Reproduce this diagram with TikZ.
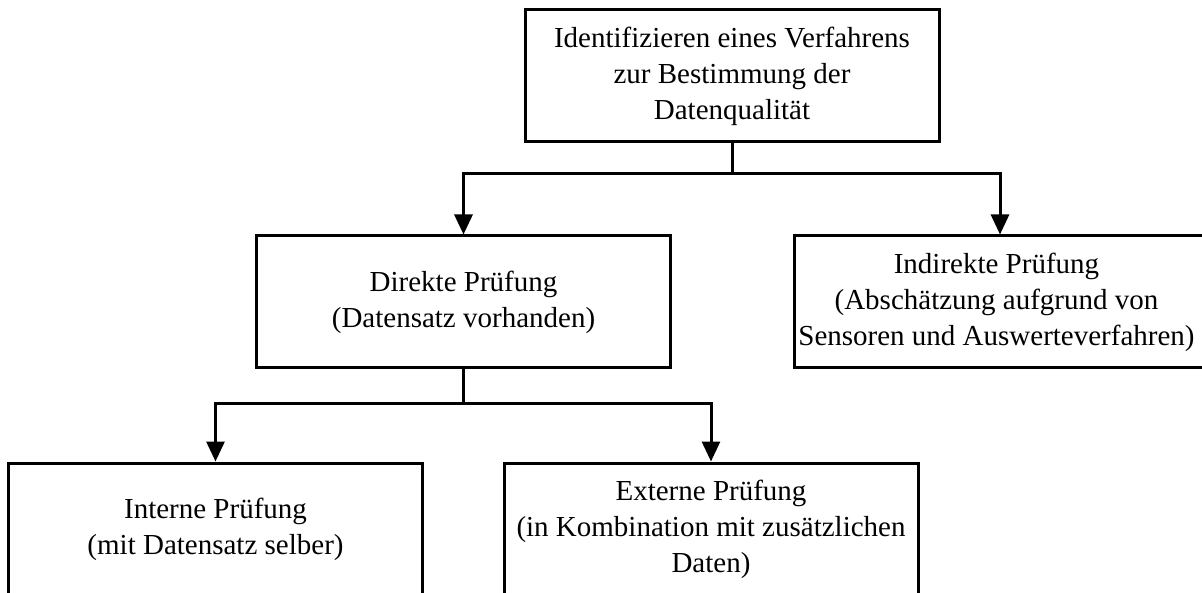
\documentclass[tikz,border=0pt]{standalone}
\usepackage{fontspec}
\setmainfont{Liberation Serif}
\usetikzlibrary{arrows.meta}
\begin{document}
\begin{tikzpicture}[x=1pt,y=-1pt,
  box/.style={draw,line width=3pt,minimum width=414pt,minimum height=132pt,
    align=center,inner sep=0pt,font=\fontsize{29}{36}\selectfont},
  link/.style={line width=3pt},
  flow/.style={line width=3pt,-{Triangle[width=18pt,length=20pt]}}]
\useasboundingbox (0,0) rectangle (1202,593);
\clip (0,0) rectangle (1202,593);
\fill[white] (0,0) rectangle (1202,593);

\node[box] (top) at (732,76) {Identifizieren eines Verfahrens\\zur Bestimmung der\\Datenqualität};
\node[box] (direct) at (463.5,302) {Direkte Prüfung\\(Datensatz vorhanden)};
% this box runs past the right margin; its text keeps to the visible part
\node[box, minimum width=440pt, anchor=west] (indirect) at (793,302)
  {\raisebox{-4pt}{\begin{tabular}{@{}c@{}}Indirekte Prüfung\\(Abschätzung aufgrund von\\Sensoren und Auswerteverfahren)\end{tabular}}\hspace*{36pt}};
\node[box] (intern) at (215.5,529) {Interne Prüfung\\(mit Datensatz selber)};
\node[box] (extern) at (711,529) {Externe Prüfung\\(in Kombination mit zusätzlichen\\Daten)};

% branching from the top box
\coordinate (j1) at (top.south |- 0,174);
\coordinate (indirect-in) at ([xshift=207pt]indirect.north west);
\draw[link] (top.south) -- (j1);
\draw[flow] (j1) -| (direct.north);
\draw[flow] (j1) -| (indirect-in);

% branching from the direct check
\coordinate (j2) at (direct.south |- 0,404);
\draw[link] (direct.south) -- (j2);
\draw[flow] (j2) -| (intern.north);
\draw[flow] (j2) -| (extern.north);
\end{tikzpicture}
\end{document}
